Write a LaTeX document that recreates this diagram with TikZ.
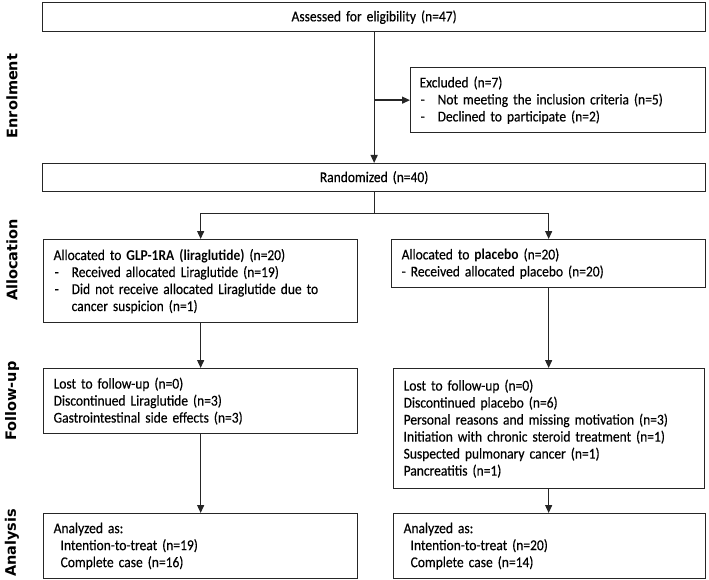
\documentclass[tikz,border=0pt]{standalone}
\usepackage{fontspec}
\setmainfont{Carlito}[FakeStretch=0.9, WordSpace=0.7, UprightFeatures={FakeBold=0.3}]
\newfontfamily\labfont{DejaVu Sans}
\usetikzlibrary{arrows.meta}
\newcommand\itm{\makebox[18pt][l]{\hspace{1pt}-}}
\begin{document}
\begin{tikzpicture}[x=1pt,y=-1pt,
  box/.style={draw=black!85, line width=1.3pt, inner sep=0pt, anchor=north west,
    font=\fontsize{15}{17}\selectfont},
  lbox/.style={box, align=left},
  cbox/.style={box, align=center},
  arr/.style={draw=black!85, line width=1.3pt, -{Triangle[length=8pt,width=7pt]}},
  conn/.style={draw=black!85, line width=1.3pt},
  lab/.style={rotate=90, font=\labfont\bfseries\fontsize{14.5}{16}\selectfont}]
\useasboundingbox (0,0) rectangle (709,580);

\node[cbox, minimum width=663pt, minimum height=29pt, text width=643pt] (assess) at (42,2)
  {Assessed for eligibility (n=47)};
\node[lbox, minimum width=295pt, minimum height=65pt, text width=277pt] (excl) at (410,67)
  {Excluded (n=7)\\
   \itm Not meeting the inclusion criteria (n=5)\\
   \itm Declined to participate (n=2)};
\node[cbox, minimum width=663pt, minimum height=28pt, text width=643pt] (random) at (42,163)
  {Randomized (n=40)};

\node[lbox, minimum width=314pt, minimum height=83pt, text width=294pt] (allocL) at (43,239)
  {Allocated to \textbf{GLP-1RA (liraglutide)} (n=20)\\
   \itm Received allocated Liraglutide (n=19)\\
   \itm Did not receive allocated Liraglutide due to\\
   \hspace*{18pt}cancer suspicion (n=1)};
\node[lbox, minimum width=314pt, minimum height=48pt, text width=294pt] (allocR) at (391,239)
  {Allocated to \textbf{placebo} (n=20)\\
   - Received allocated placebo (n=20)};

\node[lbox, minimum width=314pt, minimum height=65pt, text width=294pt] (fuL) at (43,368)
  {Lost to follow-up (n=0)\\
   Discontinued Liraglutide (n=3)\\
   Gastrointestinal side effects (n=3)};
\node[lbox, minimum width=311pt, minimum height=120pt, text width=291pt] (fuR) at (393,368)
  {Lost to follow-up (n=0)\\
   Discontinued placebo (n=6)\\
   Personal reasons and missing motivation (n=3)\\
   Initiation with chronic steroid treatment (n=1)\\
   Suspected pulmonary cancer (n=1)\\
   Pancreatitis (n=1)};

\node[lbox, minimum width=314pt, minimum height=65pt, text width=294pt] (anL) at (43,513)
  {Analyzed as:\\
   \hspace*{7pt}Intention-to-treat (n=19)\\
   \hspace*{7pt}Complete case (n=16)};
\node[lbox, minimum width=312pt, minimum height=65pt, text width=292pt] (anR) at (393,513)
  {Analyzed as:\\
   \hspace*{7pt}Intention-to-treat (n=20)\\
   \hspace*{7pt}Complete case (n=14)};

\node[lab] (l1) at (12,96) {Enrolment};
\node[lab] (l2) at (12,260) {Allocation};
\node[lab] (l3) at (12,401) {Follow-up};
\node[lab] (l4) at (12,543) {Analysis};

\draw[arr] (assess.south) -- (random.north);
\draw[arr] (assess.south |- excl.west) -- (excl.west);
\path (random.south) ++(0,21) coordinate (sp);
\draw[conn] (random.south) -- (sp);
\draw[arr] (sp) -| (allocL.north);
\draw[arr] (sp) -| (allocR.north);
\draw[arr] (allocL.south) -- (fuL.north);
\draw[arr] (allocR.south) -- (allocR.south |- fuR.north);
\draw[arr] (fuL.south) -- (anL.north);
\draw[arr] (allocR.south |- fuR.south) -- (allocR.south |- anR.north);
\end{tikzpicture}
\end{document}
